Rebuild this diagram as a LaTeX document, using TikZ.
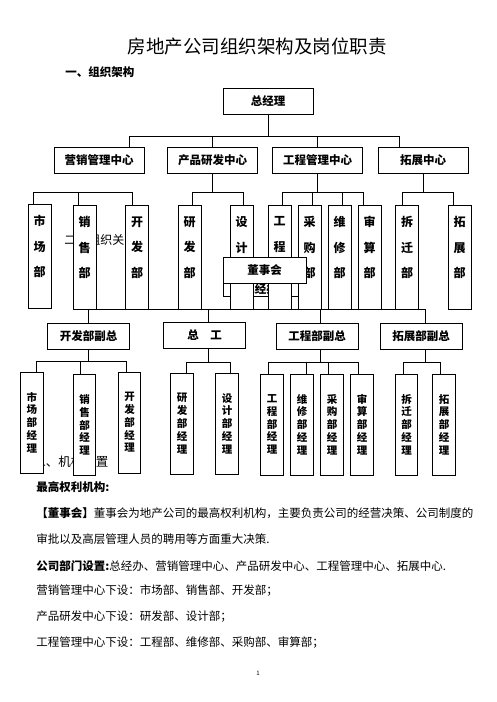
\documentclass[tikz,border=0pt]{standalone}
\usepackage{fontspec}
\setmainfont{Noto Sans CJK SC}
\def\bodysize{\fontsize{11.5}{12}\selectfont}

\begin{document}
\begin{tikzpicture}[x=1pt, y=-1pt, line width=0.8pt, every label/.append style={text=black}]
    \tikzstyle{box}=[rectangle, draw=black, fill=white, inner sep=0pt, font=\bodysize\bfseries]
    \tikzstyle{hub}=[box, minimum width=90pt, minimum height=26pt]
    \tikzstyle{dept}=[box, minimum width=23pt, minimum height=104pt]
    \tikzstyle{vp}=[box, minimum width=82pt, minimum height=26pt]
    \tikzstyle{mgr}=[box, minimum width=22.5pt, minimum height=101pt, align=center, font=\fontsize{10.5}{12.8}\selectfont\bfseries]
    \tikzstyle{vlbl}=[align=center, yshift=9.5pt, font=\fontsize{12}{25.5}\selectfont\bfseries]
    \tikzstyle{para}=[anchor=west, inner sep=0pt, font=\bodysize]

    \path[fill=white, use as bounding box] (0,0) rectangle (496,702);

    % Page texts
    \node[font=\fontsize{18.5}{20}\selectfont] (title) at (257,46) {房地产公司组织架构及岗位职责};
    \node[para, font=\bodysize\bfseries] (sec1) at (65,72) {一、组织架构};
    \node[para, font=\fontsize{12}{13}\selectfont] (sec2) at (64,240) {二、组织关系};
    \node[para, font=\fontsize{12.5}{13}\selectfont] (sec3) at (33,462) {二、机构设置};
    \node[para, font=\bodysize\bfseries] (p1) at (36,487) {最高权利机构:};
    \node[para] (p2) at (36,513) {{\bfseries 【董事会】}董事会为地产公司的最高权利机构，主要负责公司的经营决策、公司制度的};
    \node[para] (p3) at (36,539) {审批以及高层管理人员的聘用等方面重大决策.};
    \node[para] (p4) at (36,566) {{\bfseries 公司部门设置:}总经办、营销管理中心、产品研发中心、工程管理中心、拓展中心.};
    \node[para] (p5) at (36,591) {营销管理中心下设：市场部、销售部、开发部；};
    \node[para] (p6) at (36,617) {产品研发中心下设：研发部、设计部；};
    \node[para] (p7) at (36,643) {工程管理中心下设：工程部、维修部、采购部、审算部；};
    \node[font=\fontsize{6}{7}\selectfont] (pnum) at (258,673) {1};

    % Draw the lower chart
    \node[vp] (VP-1) at (88.5,336) {开发部副总};
    \node[vp] (VP-2) at (204.5,335) {总\quad 工};
    \node[vp] (VP-3) at (317,336) {工程部副总};
    \node[vp] (VP-4) at (421,336) {拓展部副总};

    \node[mgr] (Mgr-1) at (32,422.5) {市\\场\\部\\经\\理};
    \node[mgr] (Mgr-2) at (84.5,425) {销\\售\\部\\经\\理};
    \node[mgr] (Mgr-3) at (129.5,422.5) {开\\发\\部\\经\\理};
    \node[mgr] (Mgr-4) at (182,423.5) {研\\发\\部\\经\\理};
    \node[mgr] (Mgr-5) at (227,423.5) {设\\计\\部\\经\\理};
    \node[mgr] (Mgr-6) at (272,424.5) {工\\程\\部\\经\\理};
    \node[mgr] (Mgr-7) at (302,424.5) {维\\修\\部\\经\\理};
    \node[mgr] (Mgr-8) at (332,424.5) {采\\购\\部\\经\\理};
    \node[mgr] (Mgr-9) at (362,424.5) {审\\算\\部\\经\\理};
    \node[mgr] (Mgr-10) at (406.5,424.5) {拆\\迁\\部\\经\\理};
    \node[mgr] (Mgr-11) at (444,424.5) {拓\\展\\部\\经\\理};

    \coordinate (va) at (73,309);
    \coordinate (vq) at (208,309);
    \coordinate (vr) at (320,309);
    \coordinate (vb) at (425,309);
    \draw (va) -- (vb) -- (vb |- VP-4.north);
    \draw (VP-1 |- va) -- (VP-1);
    \draw (vq) -- (vq |- VP-2.north);
    \draw (vr) -- (vr |- VP-3.north);

    \coordinate (ka) at (36,361);
    \coordinate (kb) at (80,361);
    \coordinate (kc) at (126,361);
    \draw (VP-1) -- (VP-1 |- ka);
    \draw (ka |- Mgr-1.north) |- (kc) -- (kc |- Mgr-3.north);
    \draw (kb) -- (kb |- Mgr-2.north);

    \coordinate (ga) at (186,362);
    \coordinate (gb) at (230,362);
    \draw (vq |- VP-2.south) -- (vq |- ga);
    \draw (ga |- Mgr-4.north) |- (gb) -- (gb |- Mgr-5.north);

    \coordinate (ha) at (268,362);
    \coordinate (hb) at (306,362);
    \coordinate (hc) at (328,362);
    \coordinate (hd) at (358,362);
    \draw (vr |- VP-3.south) -- (vr |- ha);
    \draw (ha |- Mgr-6.north) |- (hd) -- (hd |- Mgr-9.north);
    \draw (hb) -- (hb |- Mgr-7.north);
    \draw (hc) -- (hc |- Mgr-8.north);

    \coordinate (ja) at (403,362);
    \coordinate (jb) at (440,362);
    \draw (vb |- VP-4.south) -- (vb |- ja);
    \draw (ja |- Mgr-10.north) |- (jb) -- (jb |- Mgr-11.north);

    % Office box, mostly hidden
    \node[box, minimum width=75pt, minimum height=13pt] (Office) at (260.5,289.5) {总经办};

    % Draw the upper chart
    \node[hub] (GM) at (268,101) {总经理};
    \node[hub] (Mkt) at (99,160) {营销管理中心};
    \node[hub] (Prd) at (212.5,160) {产品研发中心};
    \node[hub] (Eng) at (317.5,160) {工程管理中心};
    \node[hub] (Ext) at (423,160) {拓展中心};

    \node[dept, label={[vlbl]center:市\\场\\部}] (Mkt-1) at (39.5,256) {};
    \node[dept, label={[vlbl]center:销\\售\\部}] (Mkt-2) at (84.5,257) {};
    \node[dept, label={[vlbl]center:开\\发\\部}] (Mkt-3) at (137,257) {};
    \node[dept, label={[vlbl]center:研\\发\\部}] (Prd-1) at (189.5,257) {};
    \node[dept, label={[vlbl]center:设\\计\\部}] (Prd-2) at (241.5,257) {};
    \node[dept, label={[vlbl]center:工\\程\\部}] (Eng-1) at (279.5,257) {};
    \node[dept, label={[vlbl]center:采\\购\\部}] (Eng-2) at (309.5,257) {};
    \node[dept, label={[vlbl]center:维\\修\\部}] (Eng-3) at (339.5,257) {};
    \node[dept, label={[vlbl]center:审\\算\\部}] (Eng-4) at (369.5,257) {};
    \node[dept, label={[vlbl]center:拆\\迁\\部}] (Ext-1) at (407,257) {};
    \node[dept, label={[vlbl]center:拓\\展\\部}] (Ext-2) at (459.5,257) {};

    \coordinate (t1) at (129,136);
    \coordinate (t4) at (399,136);
    \draw (GM) -- (GM |- t1);
    \draw (t1 |- Mkt.north) |- (t4) -- (t4 |- Ext.north);
    \draw (Prd) -- (Prd |- t1);
    \draw (Eng) -- (Eng |- t1);

    \coordinate (ma) at (33,192);
    \coordinate (mb) at (78,192);
    \coordinate (mc) at (132,192);
    \draw (ma |- Mkt-1.north) |- (mc) -- (mc |- Mkt-3.north);
    \draw (mb) -- (mb |- Mkt-2.north);

    \coordinate (pa) at (192,192);
    \coordinate (pb) at (243,192);
    \draw (Prd) -- (Prd |- pa);
    \draw (pa |- Prd-1.north) |- (pb) -- (pb |- Prd-2.north);

    \coordinate (ea) at (282,192);
    \coordinate (eb) at (312,192);
    \coordinate (ec) at (342,192);
    \coordinate (ed) at (363,192);
    \draw (Eng) -- (Eng |- ea);
    \draw (ea |- Eng-1.north) |- (ed) -- (ed |- Eng-4.north);
    \draw (eb) -- (eb |- Eng-2.north);
    \draw (ec) -- (ec |- Eng-3.north);

    \coordinate (xa) at (402,192);
    \coordinate (xb) at (453,192);
    \draw (Ext) -- (Ext |- xa);
    \draw (xa |- Ext-1.north) |- (xb) -- (xb |- Ext-2.north);

    % Board box on top
    \node[box, minimum width=83pt, minimum height=26pt] (Board) at (264.5,270) {董事会};
\end{tikzpicture}
\end{document}
